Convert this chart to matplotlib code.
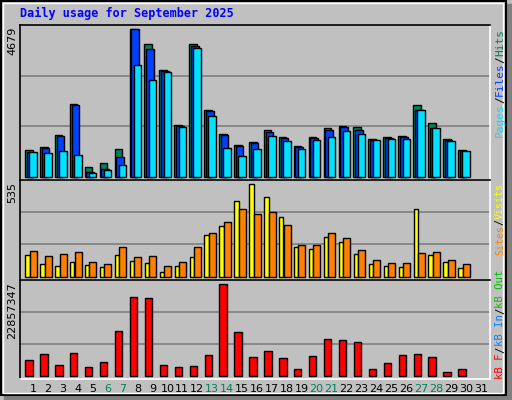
import matplotlib
matplotlib.use("Agg")
import matplotlib.pyplot as plt
from matplotlib.patches import Rectangle
import numpy as np

days = list(range(1, 32))
hits = [836,932,1313,2297,296,423,868,4679,4203,3377,1630,4203,2107,1344,995,1090,1471,1249,963,1249,1535,1598,1567,1186,1249,1281,2265,1694,1186,836,0]
files = [773,900,1281,2265,138,233,614,4679,4044,3345,1598,4139,2075,1313,963,1059,1408,1217,932,1217,1471,1567,1471,1154,1217,1249,2107,1535,1154,805,0]
pages = [773,741,805,678,106,201,360,3536,3059,3313,1567,4076,1916,900,646,868,1281,1122,868,1154,1249,1440,1344,1154,1186,1186,2107,1535,1122,805,0]
visits = [124,71,60,83,66,54,124,89,77,25,60,112,239,292,436,535,460,344,170,158,228,199,129,71,60,54,390,124,83,48,0]
sites = [147,118,129,141,83,71,170,112,118,60,83,170,251,315,390,361,373,297,182,182,251,222,153,95,77,77,135,141,95,71,0]
kbytes = [3840000,5340000,2590000,5590000,2090000,3340000,11090000,19600000,19350000,2590000,2090000,2340000,5090000,22857347,10840000,4590000,6090000,4340000,1590000,4840000,9090000,8840000,8340000,1590000,3090000,5090000,5340000,4590000,830000,1590000,0]
weekend = {6, 7, 13, 14, 20, 21, 27, 28}

W, H = 512, 400
fig = plt.figure(figsize=(5.12, 4.0), dpi=100)
fig.patch.set_facecolor("#C0C0C0")
bg = fig.add_axes([0, 0, 1, 1])
bg.set_xlim(0, W); bg.set_ylim(H, 0); bg.axis("off")
bg.add_patch(Rectangle((506, 4), 6, 396, color="#808080"))
bg.add_patch(Rectangle((4, 395), 508, 5, color="#808080"))
bg.add_patch(Rectangle((0.5, 0.5), 505, 394, fill=False, ec="black", lw=1.5))
bg.add_patch(Rectangle((3, 3), 500, 390, fill=False, ec="white", lw=1))

mono = "DejaVu Sans Mono"
fig.text(20/W, 1 - 13/H, "Daily usage for September 2025", color="#0000ff",
         fontfamily=mono, fontweight="bold", fontsize=8.5, va="center", ha="left")

x = np.array(days, dtype=float)
xl = (1 - 13/14.93, 1 + 457/14.93)

def mk(top, bot):
    ax = fig.add_axes([20/W, 1 - bot/H, 470/W, (bot - top)/H])
    ax.set_facecolor("#C0C0C0")
    ax.set_xlim(*xl)
    for s in ax.spines.values():
        s.set_color("black"); s.set_linewidth(1.2)
    ax.spines["bottom"].set_color("white")
    ax.spines["right"].set_color("white")
    ax.set_xticks([]); ax.set_yticks([])
    return ax

def setup(ax, mx, top, bot, base, maxtop):
    scale = mx / (base - maxtop)
    ax.set_ylim(-(bot - base) * scale, (base - top) * scale)
    full = (base - top) * scale
    for g in (full/3, 2*full/3):
        ax.axhline(g, color="#808080", lw=1.2, zorder=0)

kw = dict(align="edge", ec="black", lw=1, zorder=2)

def bars(ax, off, vals, w, col):
    v = np.array(vals, dtype=float)
    m = v > 0
    ax.bar(x[m] + off, v[m], w, color=col, **kw)

ax1 = mk(25, 180)
setup(ax1, max(hits), 25, 180, 176.7, 29.3)
bars(ax1, -0.536, hits, 0.51, "#00805c")
bars(ax1, -0.42, files, 0.51, "#0040ff")
bars(ax1, -0.25, pages, 0.50, "#00e0ff")

ax2 = mk(180, 280)
setup(ax2, max(visits), 180, 280, 276.7, 184.3)
bars(ax2, -0.514, visits, 0.29, "#ffff00")
bars(ax2, -0.22, sites, 0.47, "#ff8000")

ax3 = mk(280, 379)
setup(ax3, max(kbytes), 280, 379, 375.7, 284.3)
bars(ax3, -0.51, kbytes, 0.49, "#ff0000")

for d in days:
    px = 33 + 14.93 * (d - 1)
    fig.text(px/W, 1 - 389/H, str(d), ha="center", va="center", fontsize=8,
             fontfamily="DejaVu Sans", color="#00805c" if d in weekend else "black")

for lab, ytop in ((str(max(hits)), 27), (str(max(visits)), 182), (str(max(kbytes)), 282)):
    fig.text(12/W, 1 - ytop/H, lab, rotation=90, ha="center", va="top",
             fontsize=8, fontfamily="DejaVu Sans")

def vlabel(xp, ybottom, parts, step=6.77, fs=8):
    y = ybottom
    for txt, col in parts:
        fig.text(xp/W, 1 - y/H, txt, rotation=90, ha="center", va="bottom",
                 color=col, fontsize=fs, fontfamily=mono)
        y -= len(txt) * step

vlabel(500, 137, [("Pages", "#00e0ff"), ("/", "black"), ("Files", "#0040ff"),
                  ("/", "black"), ("Hits", "#00805c")])
vlabel(500, 255, [("Sites", "#ff8000"), ("/", "black"), ("Visits", "#ffff00")],
       step=6.0, fs=7.2)
vlabel(500, 379, [("kB F", "#ff0000"), ("/", "black"), ("kB In", "#0080ff"),
                  ("/", "black"), ("kB Out", "#00c000")], step=6.5, fs=7.7)

fig.savefig("out.png", dpi=100, facecolor=fig.get_facecolor())
